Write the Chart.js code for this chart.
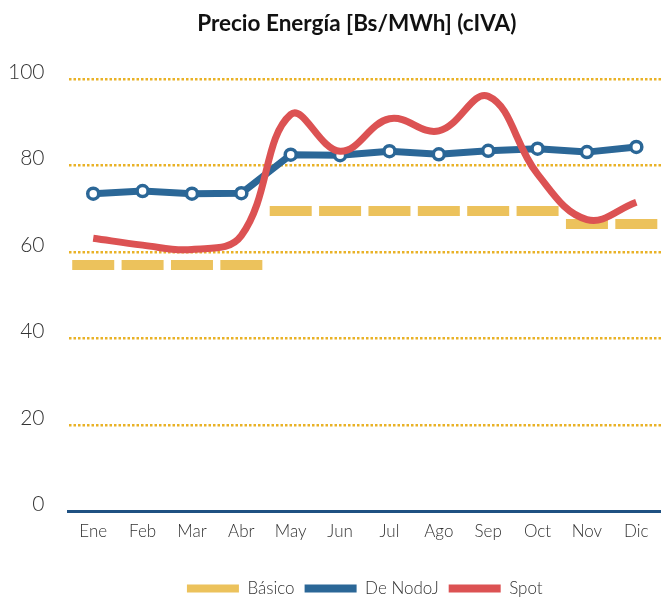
<!DOCTYPE html>
<html>
<head>
<meta charset="utf-8">
<script src="https://cdn.jsdelivr.net/npm/chart.js@4"></script>
<style>
  body { margin: 0; background: #fff; }
</style>
</head>
<body>
<canvas id="myChart" width="661" height="597"></canvas>
<script>
// data
const months = ["Ene", "Feb", "Mar", "Abr", "May", "Jun", "Jul", "Ago", "Sep", "Oct", "Nov", "Dic"]
const basico = [57, 57, 57, 57, 69.5, 69.5, 69.5, 69.5, 69.5, 69.5, 66.5, 66.5]
const deNodo = [73.5, 74.1, 73.5, 73.6, 82.5, 82.4, 83.3, 82.6, 83.4, 83.9, 83.1, 84.3]
const spot = [63.2, 61.6, 60.6, 63.8, 91.8, 83.3, 90.8, 88, 96, 78, 67.5, 71.5]
const yTicks = [0, 20, 40, 60, 80, 100]

const titleText = "Precio Energía [Bs/MWh] (cIVA)"
const fontName = "Lato, 'Open Sans', sans-serif"

// title centred over the plot area, like the original
const titlePlugin = {
    id: "plotTitle",
    afterDraw: (chart) => {
        const ctx = chart.ctx
        const area = chart.chartArea
        ctx.save()
        ctx.font = "bold 22.5px " + fontName
        ctx.fillStyle = "#111"
        ctx.textAlign = "center"
        ctx.textBaseline = "middle"
        ctx.fillText(titleText, (area.left + area.right) / 2 - 8, 24)
        ctx.restore()
    }
}

const ctx = document.getElementById("myChart").getContext("2d")
const myChart = new Chart(ctx, {
    type: "line",
    data: {
        labels: months,
        datasets: [
        {
            label: "Básico",
            data: basico,
            borderColor: "#ECC25C",
            backgroundColor: "#ECC25C",
            showLine: false,
            pointStyle: "line",
            pointRadius: 21,
            pointHoverRadius: 21,
            pointBorderWidth: 10,
            pointHoverBorderWidth: 10,
            order: 3,
        },
        {
            label: "De NodoJ",
            data: deNodo,
            borderColor: "#2B6797",
            backgroundColor: "#2B6797",
            borderWidth: 7,
            tension: 0,
            pointRadius: 5.5,
            pointHoverRadius: 5.5,
            pointBorderWidth: 3.5,
            pointBackgroundColor: "#fff",
            pointBorderColor: "#2B6797",
            order: 2,
        },
        {
            label: "Spot",
            data: spot,
            borderColor: "#DC5253",
            backgroundColor: "#DC5253",
            borderWidth: 7,
            tension: 0.4,
            pointRadius: 0,
            pointHoverRadius: 0,
            order: 1,
        },
        ],
    },
    options: {
        responsive: false,
        animation: false,
        layout: { autoPadding: false, padding: { top: 79, left: -16, right: 0, bottom: -10 } },
        plugins: {
            title: { display: false },
            tooltip: { enabled: false },
            legend: {
                position: "bottom",
                fullSize: false,
                labels: {
                    boxWidth: 52,
                    boxHeight: 8,
                    padding: 10,
                    color: "#333",
                    font: { family: fontName, size: 17, weight: "300" },
                    generateLabels: (chart) => chart.data.datasets.map((ds, i) => ({
                        text: ds.label,
                        fillStyle: ds.borderColor,
                        strokeStyle: ds.borderColor,
                        lineWidth: 0,
                        hidden: false,
                        datasetIndex: i,
                        fontColor: "#333",
                    })),
                },
            },
        },
        scales: {
            x: {
                offset: true,
                grid: { display: false, drawTicks: false },
                border: { display: true, color: "#1F5182", width: 3 },
                ticks: {
                    padding: 10,
                    color: "#333",
                    font: { family: fontName, size: 17, weight: "300" },
                },
                afterFit: (scale) => { scale.height += 18 },
            },
            y: {
                min: 0,
                max: 100,
                afterBuildTicks: (scale) => { scale.ticks = yTicks.map(v => ({ value: v })) },
                grid: {
                    drawTicks: false,
                    color: (c) => c.tick && c.tick.value === 0 ? "rgba(0,0,0,0)" : "#E9B226",
                    lineWidth: 2.5,
                },
                border: { display: false, dash: [2.5, 2] },
                ticks: {
                    padding: 24,
                    labelOffset: -7,
                    color: "#333",
                    font: { family: fontName, size: 21, weight: "300" },
                },
            },
        },
    },
    plugins: [titlePlugin],
})
</script>
</body>
</html>
